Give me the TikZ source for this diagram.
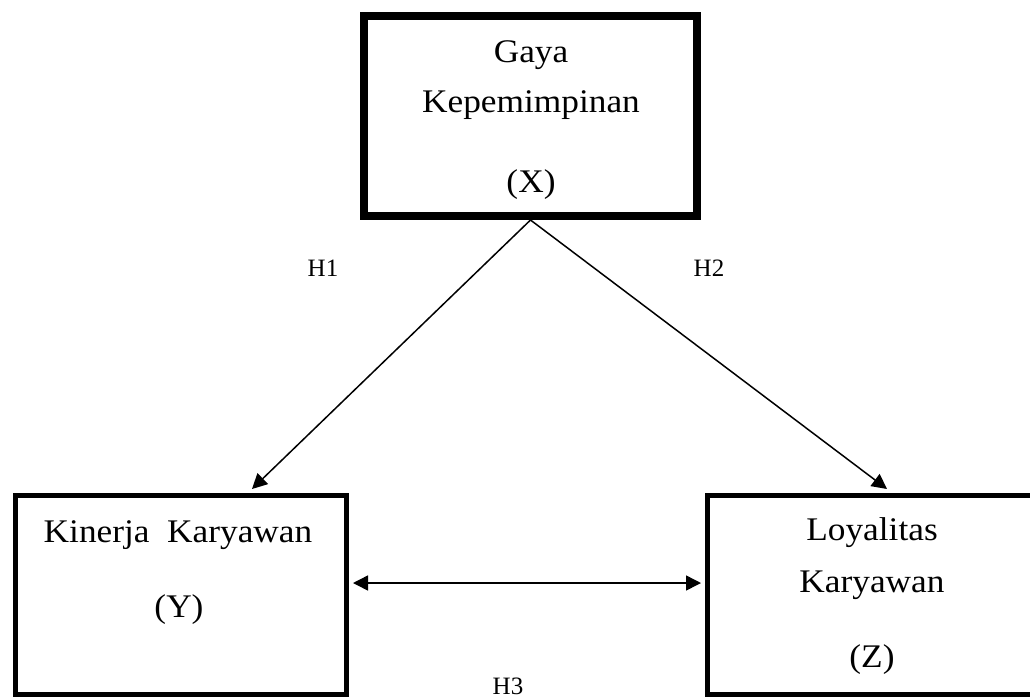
\documentclass[tikz,border=0pt]{standalone}
\usepackage{fontspec}
\setmainfont{Liberation Serif}
\newfontfamily\boxfont{Liberation Serif}[FakeStretch=1.07]
\usetikzlibrary{arrows.meta,calc}

\tikzset{
  varbox/.style={draw=black, rectangle, inner sep=0pt},
  boxtext/.style={anchor=base, inner sep=0pt, font=\boxfont\fontsize{33}{36}\selectfont},
  hyplabel/.style={anchor=base, inner sep=0pt, font=\fontsize{25}{28}\selectfont},
  tip/.style={Triangle[length=15pt,width=15pt]},
  link/.style={line width=1.5pt, -{Triangle[length=15pt,width=15pt]}},
  bilink/.style={line width=1.5pt, {Triangle[length=15pt,width=15pt]}-{Triangle[length=15pt,width=15pt]}}
}

\begin{document}
\begin{tikzpicture}[x=1pt,y=-1pt]
  \clip (0,0) rectangle (1030,699);
  \useasboundingbox (0,0) rectangle (1030,699);

  % variable boxes
  \node[varbox, line width=8pt, minimum width=333pt, minimum height=200pt] (xbox) at (530.5,116) {};
  \node[varbox, line width=5pt, minimum width=331pt, minimum height=199pt] (ybox) at (181,595) {};
  \node[varbox, line width=5pt, minimum width=340pt, minimum height=199pt] (zbox) at (877.5,595) {};

  % box captions
  \node[boxtext] (xl1) at (531,62)  {Gaya};
  \node[boxtext] (xl2) at (531,112) {Kepemimpinan};
  \node[boxtext] (xl3) at (531,192) {(X)};
  \node[boxtext] (yl1) at (178,542) {Kinerja\ \ Karyawan};
  \node[boxtext] (yl2) at (179,617) {(Y)};
  \node[boxtext] (zl1) at (872,540) {Loyalitas};
  \node[boxtext] (zl2) at (872,592) {Karyawan};
  \node[boxtext] (zl3) at (872,667) {(Z)};

  % hypothesis labels
  \node[hyplabel] (h1) at (323,276) {H1};
  \node[hyplabel] (h2) at (709,276) {H2};
  \node[hyplabel] (h3) at (508,694) {H3};

  % connector end points
  \coordinate (apex) at (xbox.south);
  \coordinate (yin) at (252,489);
  \coordinate (zin) at (887,489);
  \coordinate (yside) at ($(ybox.east)+(4,-12)$);
  \coordinate (zside) at ($(zbox.west)+(-4,-12)$);

  % paths
  \draw[link] (apex) -- (yin);
  \draw[link] (apex) -- (zin);
  \draw[bilink] (yside) -- (zside);
\end{tikzpicture}
\end{document}
